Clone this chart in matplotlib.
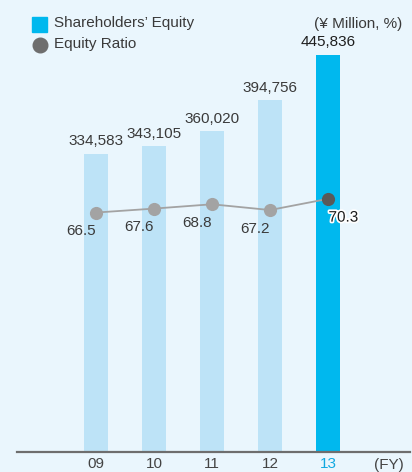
import matplotlib
matplotlib.use("Agg")
import matplotlib.pyplot as plt
import matplotlib.patheffects as pe
from matplotlib.patches import Rectangle
from matplotlib.lines import Line2D

plt.rcParams['font.family'] = ['Liberation Sans', 'DejaVu Sans']

years = ["09", "10", "11", "12", "13"]
equity = [334583, 343105, 360020, 394756, 445836]
ratio = [66.5, 67.6, 68.8, 67.2, 70.3]

BG = "#EAF6FD"
LIGHT = "#BDE3F7"
BLUE = "#00B8EE"
GREY = "#A3A3A3"
DARK = "#595959"
TXT = "#3A3A3A"
FS = 11

W, H = 412, 472
fig = plt.figure(figsize=(W / 100, H / 100), dpi=100, facecolor=BG)

# axes box in pixels: left 17, right 410, baseline 452, top 30
left, right, bottom, top = 17, 410, 452, 30
ax = fig.add_axes([left / W, (H - bottom) / H, (right - left) / W, (bottom - top) / H])
ax.set_facecolor("none")
ax2 = ax.twinx()

x = list(range(len(years)))
colors = [LIGHT] * 4 + [BLUE]
ax.bar(x, equity, width=0.414, color=colors, zorder=1)
ax.set_xlim(-1.362, 5.414)
ax.set_ylim(0, 473600)

for i, v in enumerate(equity):
    ax.annotate(f"{v:,}", (i, v), xytext=(0, 4), textcoords="offset points",
                ha="center", va="bottom", fontsize=FS, color=TXT if i < 4 else "#1E1E1E")

ax2.set_ylim(0, 117.2)
ax2.plot(x, ratio, color=GREY, lw=1.3, zorder=2)
ax2.scatter(x[:4], ratio[:4], s=90, color=GREY, zorder=3, linewidths=0)
ax2.scatter(x[4:], ratio[4:], s=90, color=DARK, zorder=3, linewidths=0)
for i, v in enumerate(ratio):
    dx = -11 if i < 4 else 11
    ax2.annotate(f"{v}", (i, v), xytext=(dx, -13.5), textcoords="offset points",
                 ha="center", va="center", fontsize=FS, color=TXT if i < 4 else "#1E1E1E",
                 path_effects=[pe.withStroke(linewidth=2.5, foreground="white")] if i == 4 else None)

for a in (ax, ax2):
    for s in a.spines.values():
        s.set_visible(False)
    a.set_yticks([])
    a.tick_params(length=0)
ax.axhline(0, color="#6E6E6E", lw=1.6, zorder=4, clip_on=False)

ax.set_xticks(x)
ax.set_xticklabels(years, fontsize=FS, color="#444444")
ax.get_xticklabels()[-1].set_color("#12A9E0")
ax.tick_params(axis="x", pad=3.5)
fig.text(388.5 / W, 1 - 464.5 / H, "(FY)", ha="center", va="center", fontsize=FS, color="#444444")

# legend
fig.patches.append(Rectangle((32 / W, 1 - 32 / H), 15.5 / W, 15 / H, transform=fig.transFigure,
                             color=BLUE, zorder=5))
fig.add_artist(Line2D([39.5 / W], [1 - 44.5 / H], transform=fig.transFigure, marker="o",
                      markersize=10.5, color="#6E6E6E", linestyle="none"))
fig.text(54 / W, 1 - 23.5 / H, "Shareholders\u2019 Equity", ha="left", va="center", fontsize=FS, color=TXT)
fig.text(54 / W, 1 - 44 / H, "Equity Ratio", ha="left", va="center", fontsize=FS, color=TXT)
fig.text(402 / W, 1 - 24 / H, "(\u00a5 Million, %)", ha="right", va="center", fontsize=FS, color=TXT)

fig.savefig("out.png", dpi=100, facecolor=BG)
